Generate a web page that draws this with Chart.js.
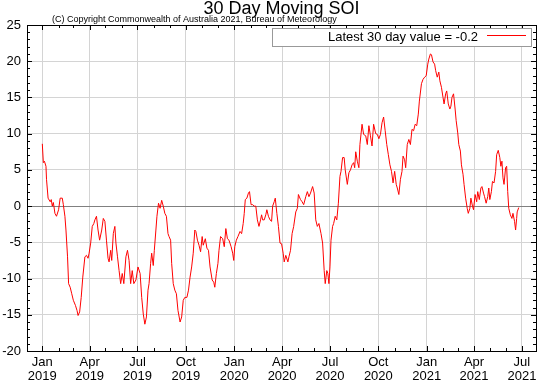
<!DOCTYPE html>
<html>
<head>
<meta charset="utf-8">
<script src="https://cdn.jsdelivr.net/npm/chart.js@4"></script>
<style>
  body { margin: 0; background: #fff; }
  canvas { display: block; }
</style>
</head>
<body>
<canvas id="soiChart" width="548" height="386"></canvas>
<script>
const FONT = "'Liberation Sans', Arial, sans-serif";

// day number counted from 1 Jan 2019
const days = [
  0, 2, 4, 7, 8, 11, 15, 17, 19, 21, 24, 27, 31, 34, 38, 40, 43, 45, 48, 50, 53, 56, 59, 63, 66,
  68, 71, 74, 77, 81, 84, 87, 89, 92, 95, 98, 100, 103, 106, 109, 113, 116, 119, 122, 125, 127, 130, 132, 135, 138, 140, 143, 146, 149, 152, 155, 159, 162, 165, 168, 171, 174, 178, 182, 186, 189, 192, 195, 198, 201,
  203, 206, 208, 211, 213, 216, 218, 221, 224, 227, 230, 233, 236, 239, 241, 244, 246, 249, 252, 255, 258, 262, 265, 268, 271, 275, 278, 281, 284, 287, 290, 292, 295, 298, 301, 304, 306, 310, 313, 316, 319, 323, 326, 328, 331, 334,
  336, 339, 343, 346, 349, 352, 355, 359, 362, 364, 366, 369, 372, 376, 379, 382, 384, 386, 389, 392, 394, 397, 400, 403, 406, 409, 412, 415, 417, 419, 422, 425, 427, 430, 433, 436, 438, 441, 443, 446, 449, 452, 455, 458, 460, 463, 467,
  469, 472, 475, 478, 482, 485, 487, 491, 494, 497, 501, 504, 507, 510, 514, 517, 520, 523, 526, 530, 533, 536, 538, 541, 543, 545, 547, 549, 552, 554, 557, 560, 563, 566, 568, 571, 574, 576, 580, 583, 586, 589, 592, 594, 596, 599, 602,
  604, 608, 611, 615, 618, 621, 624, 627, 630, 634, 637, 640, 643, 646, 649, 652, 655, 658, 661, 664, 667, 670, 673, 675, 678, 681, 684, 686, 689, 691, 694, 697, 700, 703, 706, 709, 712, 715, 717, 721, 724, 727, 730, 733, 735,
  738, 740, 743, 746, 748, 751, 754, 756, 759, 762, 764, 767, 769, 772, 775, 777, 779, 782, 785, 787, 790, 792, 795, 797, 800, 802, 805, 808, 810, 813, 815, 818, 820, 823, 826, 828, 831, 834, 836, 839, 841, 844, 847, 849, 851, 854, 856, 859, 862, 864, 867, 870, 872,
  874, 876, 878, 881, 883, 885, 887, 890, 893, 895, 898, 900, 902, 903, 906
];

const soi = [
  8.6, 6.0, 6.2, 5.5, 3.7, 1.1, 0.6, 0.9, 0.0, 0.5, -1.0, -1.4, -0.5, 1.1, 1.1, 0.2, -1.4, -3.3, -7.0, -10.7, -11.2, -12.1, -13.0, -13.7, -14.4,
  -15.1, -14.6, -12.6, -9.8, -7.0, -6.8, -7.2, -6.5, -5.1, -2.8, -2.4, -1.9, -1.4, -3.3, -4.7, -3.3, -1.7, -2.1, -4.7, -7.2, -7.7, -6.1, -7.5, -3.8, -2.8, -5.1, -7.0, -8.9, -10.7, -9.3, -10.7, -7.0, -6.1, -7.5, -10.7, -8.9, -10.7, -10.2, -8.4, -9.3, -12.6, -14.9, -16.3, -15.3, -11.6,
  -10.7, -7.9, -6.5, -8.2, -6.1, -3.3, -1.4, 0.4, -0.3, 0.8, 0.0, -1.0, -1.4, -3.8, -4.2, -4.7, -7.9, -10.7, -11.6, -12.1, -14.4, -16.0, -15.3, -13.0, -12.6, -12.6, -11.6, -9.8, -8.4, -6.5, -3.3, -3.5, -4.7, -5.4, -6.3, -4.2, -5.4, -4.5, -5.8, -6.1, -8.4, -10.2, -10.5, -11.2, -9.3, -7.9,
  -6.1, -4.2, -4.5, -5.6, -3.1, -4.5, -4.7, -5.6, -6.5, -7.5, -5.6, -4.7, -4.2, -3.5, -3.8, -2.4, -1.0, 0.9, 1.1, 1.8, 2.0, 0.2, 0.2, 0.0, 0.0, -1.9, -2.8, -1.9, -1.2, -1.9, -1.9, -1.2, -0.5, -1.4, -1.9, -2.1, 0.0, 0.6, 1.1, -1.0, -2.8, -5.1, -5.2, -6.5, -7.7, -6.8, -7.7,
  -7.0, -6.1, -3.8, -2.8, -0.8, -0.3, 1.6, 0.9, 0.6, 0.2, 1.3, 2.0, 1.3, 1.8, 2.7, 1.8, -1.9, -2.8, -2.4, -3.8, -5.1, -8.9, -10.7, -8.9, -9.3, -10.7, -8.4, -4.7, -2.8, -2.4, -1.4, -1.9, 0.4, 4.1, 4.8, 6.7, 6.7, 5.0, 3.0, 4.6, 5.0, 5.7, 6.0, 5.3, 7.5, 6.2, 5.3,
  8.5, 11.3, 9.9, 9.7, 8.5, 11.1, 9.7, 8.3, 11.3, 10.0, 9.9, 9.3, 9.9, 11.5, 12.3, 10.4, 8.5, 7.1, 5.7, 4.8, 3.2, 4.8, 3.0, 2.5, 1.6, 3.7, 4.8, 6.9, 6.4, 5.3, 8.5, 9.2, 8.5, 10.6, 10.4, 11.3, 11.1, 12.7, 14.5, 16.9, 17.5, 17.8, 18.0, 19.6, 20.3,
  21.0, 20.9, 19.9, 19.6, 18.7, 17.8, 18.5, 17.3, 16.4, 15.0, 14.1, 15.5, 15.9, 14.1, 13.4, 13.8, 15.0, 15.5, 13.4, 11.8, 10.1, 8.5, 7.6, 5.7, 4.4, 3.0, 1.1, -0.3, -1.0, -0.3, 1.1, 0.0, -0.5, 1.6, 0.6, 2.0, 0.9, 2.5, 2.7, 1.8, 1.3, 0.4, 1.3, 2.5, 0.9, 2.0, 3.4, 3.2, 4.8, 7.1, 7.7, 6.7, 5.5,
  6.2, 3.9, 3.0, 5.3, 5.5, 2.0, -0.3, -1.2, -1.7, -1.0, -2.1, -3.3, -1.7, -0.8, -0.2
];

const tickDays = [0, 90, 181, 273, 365, 456, 547, 639, 731, 821, 912];
const tickLabels = [
  ["Jan", "2019"], ["Apr", "2019"], ["Jul", "2019"], ["Oct", "2019"],
  ["Jan", "2020"], ["Apr", "2020"], ["Jul", "2020"], ["Oct", "2020"],
  ["Jan", "2021"], ["Apr", "2021"], ["Jul", "2021"]
];
const monthDays = [0, 31, 59, 90, 120, 151, 181, 212, 243, 273, 304, 334, 365, 396, 425, 456, 486, 517, 547, 578, 609, 639, 670, 700, 731, 762, 790, 821, 851, 882, 912];
const yTicks = [-20, -15, -10, -5, 0, 5, 10, 15, 20, 25];

const titleText = "30 Day Moving SOI";
const copyrightText = "(C) Copyright Commonwealth of Australia 2021, Bureau of Meteorology";
const latestLabel = "Latest 30 day value = -0.2";

// frame, inward ticks, title, copyright and legend box
const framePlugin = {
  id: "frame",
  afterDraw(chart) {
    const ctx = chart.ctx;
    const a = chart.chartArea;
    const xs = chart.scales.x;
    const ys = chart.scales.y;
    ctx.save();
    ctx.strokeStyle = "#000";
    ctx.lineWidth = 1;
    ctx.beginPath();
    monthDays.forEach(d => {
      const px = Math.round(xs.getPixelForValue(d)) + 0.5;
      const len = tickDays.includes(d) ? 5 : 3;
      ctx.moveTo(px, a.bottom); ctx.lineTo(px, a.bottom - len);
      ctx.moveTo(px, a.top); ctx.lineTo(px, a.top + len);
    });
    for (let v = -20; v <= 25; v++) {
      const py = Math.round(ys.getPixelForValue(v)) + 0.5;
      const len = v % 5 === 0 ? 5 : 3;
      ctx.moveTo(a.left, py); ctx.lineTo(a.left + len, py);
      ctx.moveTo(a.right, py); ctx.lineTo(a.right - len, py);
    }
    ctx.stroke();
    ctx.strokeRect(Math.round(a.left) + 0.5, Math.round(a.top) + 0.5, Math.round(a.right - a.left), Math.round(a.bottom - a.top));

    ctx.fillStyle = "#000";
    ctx.textAlign = "center";
    ctx.textBaseline = "alphabetic";
    ctx.font = "18px " + FONT;
    ctx.fillText(titleText, (a.left + a.right) / 2, 14);
    ctx.textAlign = "left";
    ctx.font = "9px " + FONT;
    ctx.fillText(copyrightText, 52, 22);

    const ds = chart.data.datasets[0];
    ctx.fillStyle = "#fff";
    ctx.fillRect(272, 28, 260, 18);
    ctx.strokeStyle = "#999";
    ctx.strokeRect(272.5, 28.5, 259, 18);
    ctx.fillStyle = "#000";
    ctx.textAlign = "right";
    ctx.font = "13px " + FONT;
    ctx.fillText(ds.label, 478, 41);
    ctx.strokeStyle = ds.borderColor;
    ctx.beginPath();
    ctx.moveTo(487, 35.5); ctx.lineTo(526, 35.5);
    ctx.stroke();
    ctx.restore();
  }
};

const points = days.map((d, i) => ({ x: d, y: soi[i] }));

new Chart(document.getElementById("soiChart"), {
  type: "line",
  data: {
    datasets: [{
      label: latestLabel,
      data: points,
      borderColor: "#ff0000",
      borderWidth: 1,
      pointRadius: 0,
      tension: 0,
      fill: false
    }]
  },
  options: {
    responsive: false,
    animation: false,
    layout: { padding: { top: 25, right: 12, left: 0, bottom: 0 } },
    plugins: { legend: { display: false }, tooltip: { enabled: false } },
    scales: {
      x: {
        type: "linear",
        min: -29.1,
        max: 938.8,
        afterBuildTicks: s => { s.ticks = tickDays.map(v => ({ value: v })); },
        afterFit: s => { s.height = 35; },
        ticks: {
          autoSkip: false,
          maxRotation: 0,
          padding: 4,
          color: "#000",
          font: { family: FONT, size: 13, lineHeight: 1.1 },
          callback: v => tickLabels[tickDays.indexOf(v)]
        },
        grid: { color: "#d4d4d4", drawTicks: false },
        border: { display: false }
      },
      y: {
        min: -20,
        max: 25,
        afterBuildTicks: s => { s.ticks = yTicks.map(v => ({ value: v })); },
        afterFit: s => { s.width = 27; },
        ticks: {
          padding: 6,
          color: "#000",
          font: { family: FONT, size: 13 }
        },
        grid: {
          color: c => (c.tick && c.tick.value === 0) ? "#808080" : "#d4d4d4",
          drawTicks: false
        },
        border: { display: false }
      }
    }
  },
  plugins: [framePlugin]
});
</script>
</body>
</html>
